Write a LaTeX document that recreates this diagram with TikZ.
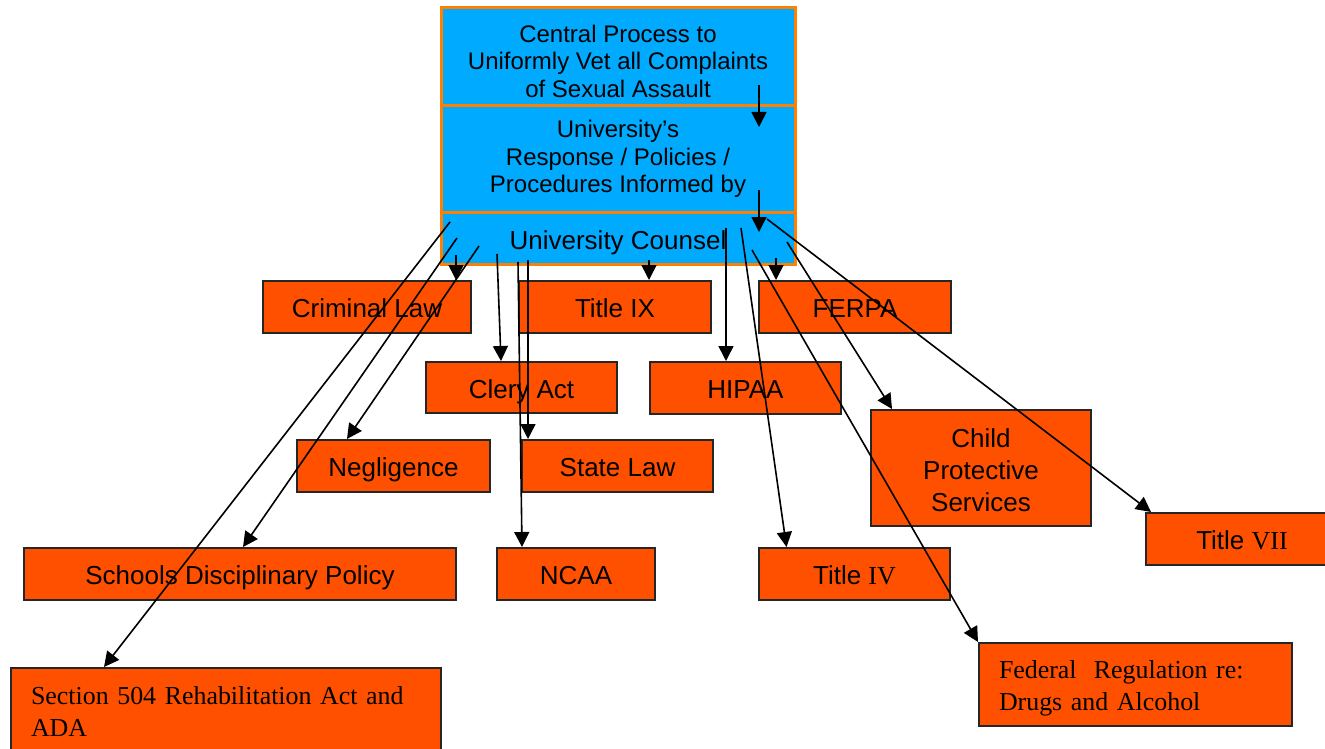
\documentclass[tikz,border=0pt]{standalone}
\usepackage{fontspec}
\setmainfont{Liberation Sans}
\newfontfamily\seriffont{Liberation Serif}
\usetikzlibrary{arrows.meta}
\definecolor{boxorange}{RGB}{255,80,0}
\definecolor{topblue}{RGB}{0,170,255}
\definecolor{rimorange}{RGB}{255,128,0}
\begin{document}
\begin{tikzpicture}[x=1pt,y=-1pt,
  lawbox/.style={draw=black!85, line width=2pt, fill=boxorange, inner sep=0pt,
    font=\fontsize{26}{32}\selectfont, align=center},
  oneline/.style={lawbox, text height=21pt, text depth=0pt},
  lawtext/.style={lawbox, font=\seriffont\fontsize{25.9}{32}\selectfont, align=left},
  topbox/.style={draw=rimorange, line width=3pt, fill=topblue, inner sep=0pt,
    minimum width=354pt, font=\fontsize{24}{27.5}\selectfont, align=center},
  arr/.style={-{Triangle[length=15pt,width=15pt]}, line width=1.6pt},
]
\useasboundingbox (0,0) rectangle (1325,749);
\fill[white] (0,0) rectangle (1325,749);

% top stack
\node[topbox, minimum height=98pt] (central) at (618,57) {\rule{0pt}{25.5pt}Central Process to\\Uniformly Vet all Complaints\\of Sexual Assault};
\node[topbox, minimum height=106pt] (resp) at (618,159) {University’s\\Response / Policies /\\Procedures Informed by};
\node[topbox, minimum height=52pt, font=\fontsize{26}{30}\selectfont, text height=22.6pt, text depth=0pt] (counsel) at (618,238) {University Counsel};

% law boxes
\node[oneline, minimum width=208pt, minimum height=52pt] (crim) at (367,307) {Criminal Law};
\node[oneline, minimum width=192pt, minimum height=52pt] (titleix) at (615,307) {Title IX};
\node[oneline, minimum width=192pt, minimum height=52pt] (ferpa) at (855,307) {FERPA};
\node[oneline, minimum width=191pt, minimum height=51pt] (clery) at (521.5,387.5) {Clery Act};
\node[oneline, minimum width=191pt, minimum height=52pt] (hipaa) at (745.5,388) {HIPAA};
\node[oneline, minimum width=193pt, minimum height=52pt] (neg) at (393.5,466) {Negligence};
\node[oneline, minimum width=191pt, minimum height=52pt] (state) at (617.5,466) {State Law};
\node[lawbox, minimum width=220pt, minimum height=116pt] (cps) at (981,468) {\rule{0pt}{23pt}Child\\Protective\\Services};
\node[oneline, minimum width=192pt, minimum height=52pt] (tvii) at (1242,539) {Title {\seriffont VII}};
\node[oneline, minimum width=432pt, minimum height=52pt] (sdp) at (240,574) {Schools Disciplinary Policy};
\node[oneline, minimum width=158pt, minimum height=52pt] (ncaa) at (576,574) {NCAA};
\node[oneline, minimum width=191pt, minimum height=52pt] (tiv) at (854.5,574) {Title {\seriffont IV}};
\node[lawtext, minimum width=430pt, minimum height=88pt, text width=390pt] (sec504) at (226,712) {Section 504 Rehabilitation Act and\\ADA};
\node[lawtext, minimum width=313pt, minimum height=83pt, text width=273pt] (fed) at (1135.5,684.5) {\rule{0pt}{26pt}Federal\ \ Regulation re:\\Drugs and Alcohol};

% connector coordinates
\coordinate (s1) at (759,85);  \coordinate (e1) at (759,127);
\coordinate (s2) at (759,190); \coordinate (e2) at (759,232);
\coordinate (s3) at (456,255);
\coordinate (s4) at (649,260);
\coordinate (s5) at (776,258);
\coordinate (s6) at (497,254);
\coordinate (s7) at (528,260);
\coordinate (s8) at (518,262);
\coordinate (s9) at (726,228);
\coordinate (s10) at (741,228);
\coordinate (s11) at (752,250);
\coordinate (s12) at (787,242);
\coordinate (s13) at (767,219);
\coordinate (s14) at (479,246);
\coordinate (s15) at (457,238);
\coordinate (s16) at (450,222);

\draw[arr] (s1) -- (e1);
\draw[arr] (s2) -- (e2);
\draw[arr] (s3) -- (s3 |- crim.north);
\draw[arr] (s4) -- (s4 |- titleix.north);
\draw[arr] (s5) -- (s5 |- ferpa.north);
\draw[arr] (s6) -- ([xshift=-20.5pt]clery.north);
\draw[arr] (s7) -- (s7 |- state.north);
\draw[arr] (s8) -- ([xshift=-54pt]ncaa.north);
\draw[arr] (s9) -- (s9 |- hipaa.north);
\draw[arr] (s10) -- ([xshift=-68pt]tiv.north);
\draw[arr] (s11) -- (fed.north west);
\draw[arr] (s12) -- ([xshift=22pt]cps.north west);
\draw[arr] (s13) -- ([xshift=6pt]tvii.north west);
\draw[arr] (s14) -- ([xshift=51pt]neg.north west);
\draw[arr] (s15) -- ([xshift=220pt]sdp.north west);
\draw[arr] (s16) -- ([xshift=94pt]sec504.north west);
\end{tikzpicture}
\end{document}
